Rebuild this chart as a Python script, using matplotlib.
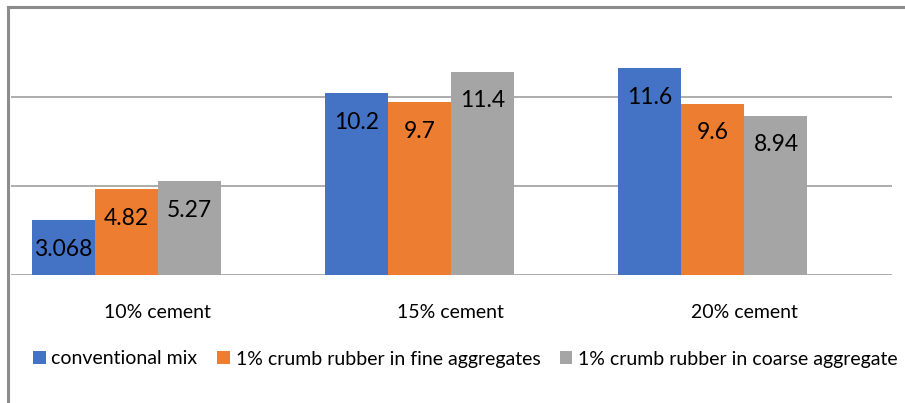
import matplotlib
matplotlib.use("Agg")
import matplotlib.pyplot as plt
from matplotlib.lines import Line2D
from matplotlib.patches import Patch
import numpy as np

plt.rcParams['font.family'] = ['Lato', 'DejaVu Sans']

categories = ["10% cement", "15% cement", "20% cement"]
series_names = ["conventional mix", "1% crumb rubber in fine aggregates",
                "1% crumb rubber in coarse aggregate"]
conventional = [3.068, 10.2, 11.6]
fine = [4.82, 9.7, 9.6]
coarse = [5.27, 11.4, 8.94]
labels = [["3.068", "10.2", "11.6"], ["4.82", "9.7", "9.6"], ["5.27", "11.4", "8.94"]]
colors = ["#4472C4", "#ED7D31", "#A5A5A5"]

W, H = 905, 403
fig = plt.figure(figsize=(W / 100, H / 100), dpi=100)
ax = fig.add_axes([11 / W, (H - 275) / H, 881 / W, (275 - 7.5) / H])

x = np.arange(len(categories))
bw = 0.2147
for i, (vals, col) in enumerate(zip([conventional, fine, coarse], colors)):
    xs = x + (i - 1) * bw
    ax.bar(xs, vals, width=bw, color=col, zorder=3)
    for xi, v, lab in zip(xs, vals, labels[i]):
        ax.annotate(lab, (xi, v), xytext=(0, -29), textcoords='offset pixels',
                    ha='center', va='center', fontsize=16.5, color='black', zorder=4)

ax.set_xlim(-0.392, 2.61)
ax.set_ylim(0, 15)
for yv in [0, 5, 10]:
    ax.axhline(yv, color='#A6A6A6', lw=1.3, zorder=1)
for s in ax.spines.values():
    s.set_visible(False)
ax.set_yticks([])
ax.set_xticks(x + 0.1056)
ax.set_xticklabels(categories, fontsize=14)
ax.tick_params(axis='x', length=0, pad=21)

# chart frame (top and left edges)
fig.add_artist(Line2D([8 / W, 1], [1 - 7.3 / H, 1 - 7.3 / H], color='#8C8C8C', lw=2.2))
fig.add_artist(Line2D([8 / W, 8 / W], [0, 1 - 7.3 / H], color='#8C8C8C', lw=2.2))

handles = [Patch(facecolor=c) for c in colors]
fig.legend(handles, series_names, loc='center left', bbox_to_anchor=(33 / W, 1 - 359 / H),
           ncol=3, frameon=False, fontsize=14, handlelength=0.65, handleheight=0.65,
           handletextpad=0.3, columnspacing=1.0, borderaxespad=0, borderpad=0)

fig.savefig("out.png", dpi=100)
